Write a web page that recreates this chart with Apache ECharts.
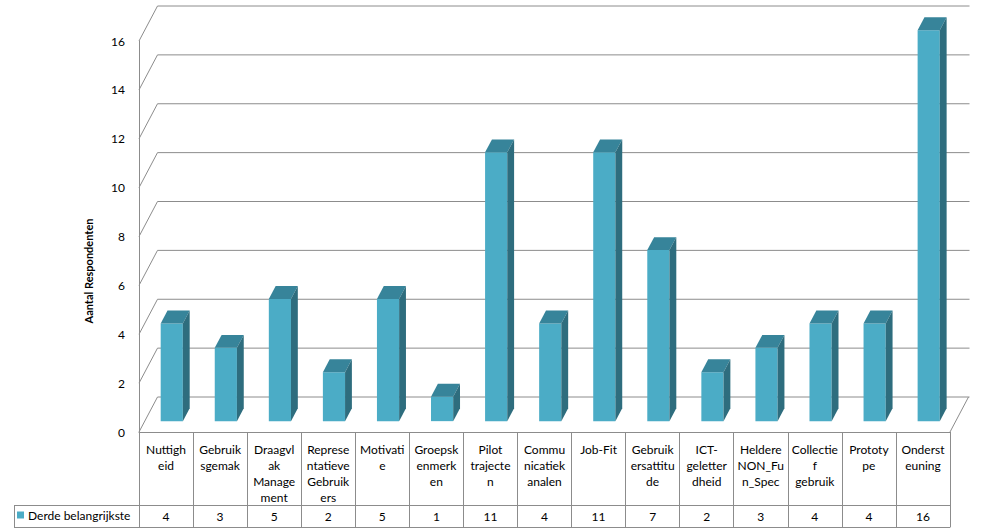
<!DOCTYPE html>
<html>
<head>
<meta charset="utf-8">
<script src="https://cdn.jsdelivr.net/npm/echarts@6/dist/echarts.min.js"></script>
<style>
html,body{margin:0;padding:0;background:#fff;}
#chart{width:997px;height:530px;}
</style>
</head>
<body>
<div id="chart"></div>
<script>
// ---- data ----
const categories = ['Nuttigheid', 'Gebruiksgemak', 'Draagvlak Management', 'Representatieve Gebruikers', 'Motivatie', 'Groepskenmerken', 'Pilot trajecten', 'Communicatiekanalen', 'Job-Fit', 'Gebruikersattitude', 'ICT-geletterdheid', 'Heldere NON_Fun_Spec', 'Collectief gebruik', 'Prototype', 'Ondersteuning'];
const categoryLabels = ['Nuttigh\neid', 'Gebruik\nsgemak', 'Draagvl\nak\nManage\nment', 'Represe\nntatieve\nGebruik\ners', 'Motivati\ne', 'Groepsk\nenmerk\nen', 'Pilot\ntrajecte\nn', 'Commu\nnicatiek\nanalen', 'Job-Fit', 'Gebruik\nersattitu\nde', 'ICT-\ngeletter\ndheid', 'Heldere\nNON_Fu\nn_Spec', 'Collectie\nf\ngebruik', 'Prototy\npe', 'Onderst\neuning'];
const values = [4, 3, 5, 2, 5, 1, 11, 4, 11, 7, 2, 3, 4, 4, 16];
const yTicks = [0, 2, 4, 6, 8, 10, 12, 14, 16];
const seriesName = 'Derde belangrijkste';
const yAxisTitle = 'Aantal Respondenten';

// ---- layout / style ----
const FONT = 'Lato, "Liberation Sans", sans-serif';
const GRID = {left: 139, right: 47, top: 41, bottom: 98};
const DX = 18.5, DY = 35;          // depth offset of the back wall
const LINE = '#8c8c8c';
const FRONT = '#4BACC6', TOP = '#37849A', SIDE = '#2E6D7E';

const chart = echarts.init(document.getElementById('chart'), null, {renderer: 'svg'});

function frameItem(params, api) {
  const cs = params.coordSys;
  const v = api.value(0);
  const y = api.coord([0, v])[1];
  const children = [
    {type: 'line', shape: {x1: cs.x, y1: y, x2: cs.x + DX, y2: y - DY}, style: {stroke: LINE, lineWidth: 1}},
    {type: 'line', shape: {x1: cs.x + DX, y1: y - DY, x2: cs.x + cs.width + DX + 1, y2: y - DY}, style: {stroke: LINE, lineWidth: 1}}
  ];
  if (v === 0) {
    children.push({type: 'line', shape: {x1: cs.x + cs.width, y1: y, x2: cs.x + cs.width + DX, y2: y - DY}, style: {stroke: LINE, lineWidth: 1}});
  }
  return {type: 'group', children: children};
}

function barItem(params, api) {
  const idx = api.value(0), val = api.value(1);
  const top = api.coord([idx, val]);
  const base = api.coord([idx, 0]);
  const bw = api.size([1, 0])[0] * 0.41;
  const ox = DX * 0.31, oy = DY * 0.31;
  const dx = DX * 0.37, dy = DY * 0.37;
  const x0 = top[0] - bw / 2 + ox, x1 = x0 + bw;
  const yT = top[1] - oy, yB = base[1] - oy;
  return {
    type: 'group',
    children: [
      {type: 'rect', shape: {x: x0, y: yT, width: bw, height: yB - yT}, style: {fill: FRONT}},
      {type: 'polygon', shape: {points: [[x0, yT], [x1, yT], [x1 + dx, yT - dy], [x0 + dx, yT - dy]]}, style: {fill: TOP}},
      {type: 'polygon', shape: {points: [[x1, yT], [x1 + dx, yT - dy], [x1 + dx, yB - dy], [x1, yB]]}, style: {fill: SIDE}}
    ]
  };
}

const W = 997;
const tableLeft = 14;
const tableRight = W - GRID.right;

chart.setOption({
  animation: false,
  textStyle: {fontFamily: FONT},
  grid: Object.assign({containLabel: false}, GRID),
  legend: {
    data: [seriesName],
    left: 17, top: 509,
    icon: 'rect', itemWidth: 7, itemHeight: 7, itemGap: 4,
    padding: 0,
    textStyle: {fontFamily: FONT, fontSize: 12, color: '#000', padding: [0, 0, 0, -1]}
  },
  xAxis: [
    {
      type: 'category', data: categories, boundaryGap: true,
      axisLine: {show: true, lineStyle: {color: LINE}},
      axisTick: {show: true, interval: 0, length: 95, lineStyle: {color: LINE}},
      axisLabel: {
        interval: 0, margin: 9, fontSize: 12, lineHeight: 16, color: '#000', fontFamily: FONT,
        verticalAlign: 'top',
        formatter: function (v, i) { return categoryLabels[i]; }
      },
      splitLine: {show: false}
    },
    {
      type: 'category', data: values.map(String), position: 'bottom', offset: 73,
      axisLine: {show: true, lineStyle: {color: LINE}},
      axisTick: {show: false},
      axisLabel: {interval: 0, margin: 5, fontSize: 12, color: '#000', fontFamily: FONT},
      splitLine: {show: false}
    },
    {
      type: 'category', data: categories, position: 'bottom', offset: 95,
      axisLine: {show: true, lineStyle: {color: LINE}},
      axisTick: {show: false}, axisLabel: {show: false}, splitLine: {show: false}
    }
  ],
  yAxis: {
    type: 'value', min: 0, max: 16, interval: 2,
    axisLine: {show: true, lineStyle: {color: LINE}},
    axisTick: {show: false},
    axisLabel: {margin: 14, fontSize: 12, color: '#000', fontFamily: FONT},
    splitLine: {show: false}
  },
  graphic: [
    {type: 'text', x: 88, y: 271, rotation: Math.PI / 2,
      style: {text: yAxisTitle, fontFamily: FONT, fontSize: 11, fontWeight: 'bold', fill: '#000', align: 'center', verticalAlign: 'middle'}},
    {type: 'line', shape: {x1: tableLeft, y1: 505.5, x2: GRID.left, y2: 505.5}, style: {stroke: LINE, lineWidth: 1}},
    {type: 'line', shape: {x1: tableLeft, y1: 527.5, x2: GRID.left, y2: 527.5}, style: {stroke: LINE, lineWidth: 1}},
    {type: 'line', shape: {x1: tableLeft + 0.5, y1: 505.5, x2: tableLeft + 0.5, y2: 527.5}, style: {stroke: LINE, lineWidth: 1}}
  ],
  series: [
    {
      type: 'custom', name: 'frame', z: 1, silent: true,
      renderItem: frameItem,
      data: yTicks.map(function (t) { return [t]; }),
      encode: {y: 0}
    },
    {
      type: 'custom', name: seriesName, z: 3,
      itemStyle: {color: FRONT},
      renderItem: barItem,
      data: values.map(function (v, i) { return [i, v]; }),
      encode: {x: 0, y: 1}
    }
  ]
});
</script>
</body>
</html>
